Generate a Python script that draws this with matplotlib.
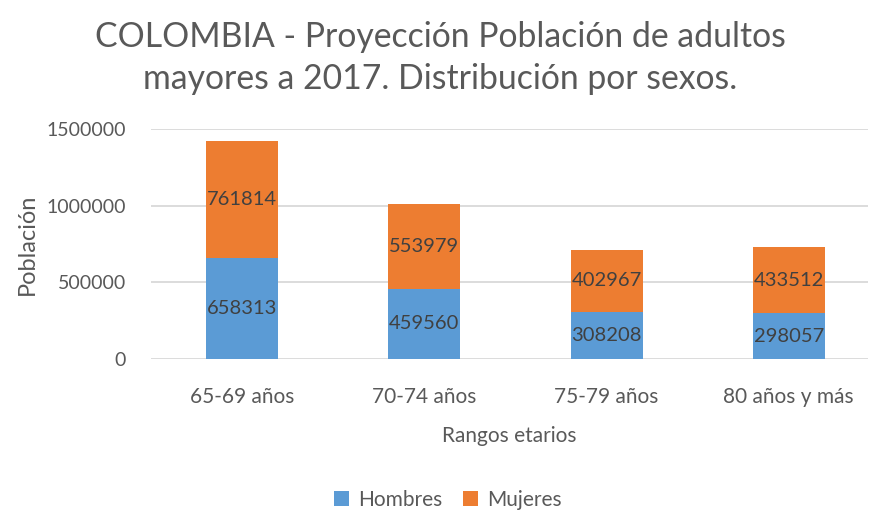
import matplotlib

matplotlib.use("Agg")
import matplotlib.pyplot as plt
import numpy as np

categories = ["65-69 años", "70-74 años", "75-79 años", "80 años y más"]
hombres = [658313, 459560, 308208, 298057]
mujeres = [761814, 553979, 402967, 433512]

BLUE = "#5B9BD5"
ORANGE = "#ED7D31"
GRAY = "#595959"

plt.rcParams["font.family"] = ["Lato", "DejaVu Sans"]

fig = plt.figure(figsize=(8.69, 5.14), dpi=100)
ax = fig.add_axes([151 / 869, 1 - 359 / 514, 717 / 869, 230 / 514])

x = np.arange(len(categories))
w = 0.395
b1 = ax.bar(x, hombres, w, color=BLUE, label="Hombres", zorder=2)
b2 = ax.bar(x, mujeres, w, bottom=hombres, color=ORANGE, label="Mujeres", zorder=2)

for bars, vals, base in ((b1, hombres, [0] * 4), (b2, mujeres, hombres)):
    for rect, v, b0 in zip(bars, vals, base):
        ax.text(rect.get_x() + rect.get_width() / 2, b0 + v / 2, f"{v}",
                ha="center", va="center", fontsize=14.5, color="#404040", zorder=3)

ax.set_xlim(-0.5, 3.435)
ax.set_ylim(0, 1500000)
ax.set_yticks([0, 500000, 1000000, 1500000])
ax.set_yticklabels(["0", "500000", "1000000", "1500000"])
ax.set_xticks(x)
ax.set_xticklabels(categories)
ax.tick_params(axis="x", length=0, labelsize=15, colors=GRAY, pad=20)
ax.tick_params(axis="y", length=0, labelsize=14, colors=GRAY, pad=18)
ax.yaxis.grid(True, color="#D9D9D9", linewidth=1.3, zorder=0)
for s in ax.spines.values():
    s.set_visible(False)

ax.set_xlabel("Rangos etarios", fontsize=15, color=GRAY, labelpad=14)
ax.set_ylabel("Población", fontsize=17, color=GRAY, labelpad=6)

fig.text(0.507, 0.887, "COLOMBIA - Proyección Población de adultos\nmayores a 2017. Distribución por sexos.",
         ha="center", va="center", fontsize=24.3, color=GRAY, linespacing=1.36)

fig.legend(handles=[b1, b2], loc="center", bbox_to_anchor=(0.515, 0.027), ncol=2, frameon=False,
           fontsize=15, labelcolor=GRAY, handlelength=0.75, handleheight=0.75, columnspacing=1.0,
           handletextpad=0.4)

fig.savefig("out.png", dpi=100)
